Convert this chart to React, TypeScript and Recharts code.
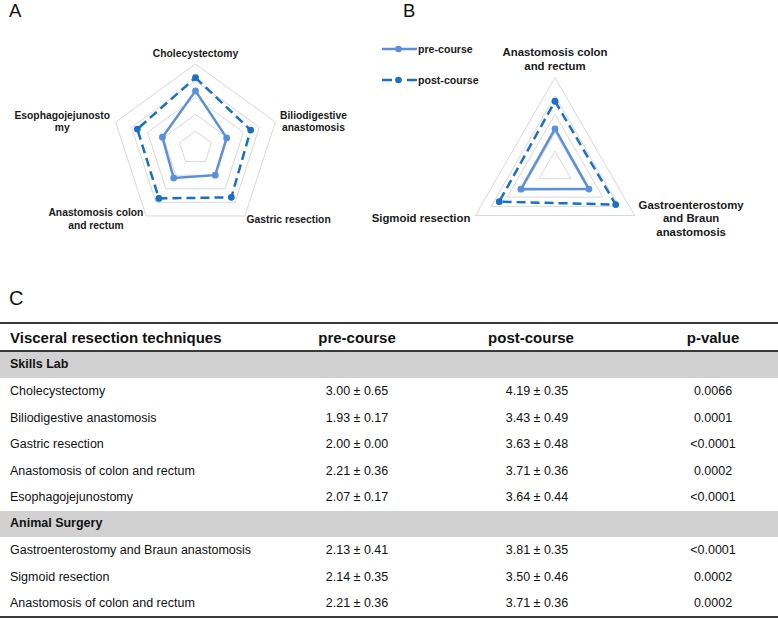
import { Legend, PolarAngleAxis, PolarGrid, PolarRadiusAxis, Radar, RadarChart } from "recharts"

// panel A – skills lab
const skillsLabels = [
  ["Cholecystectomy"],
  ["Biliodigestive", "anastomosis"],
  ["Gastric resection"],
  ["Anastomosis colon", "and rectum"],
  ["Esophagojejunosto", "my"],
]
const skillsPre = [3.4, 1.95, 2.0, 2.21, 2.07]
const skillsPost = [4.19, 3.45, 3.63, 3.71, 3.64]

// panel B – animal surgery
const animalLabels = [
  ["Anastomosis colon", "and rectum"],
  ["Gastroenterostomy", "and Braun", "anastomosis"],
  ["Sigmoid resection"],
]
const animalPre = [2.21, 2.13, 2.14]
const animalPost = [3.71, 3.81, 3.5]

const seriesNames = ["pre-course", "post-course"]

// panel C – table
const tableHeader = ["Visceral resection techniques", "pre-course", "post-course", "p-value"]
const skillsRows = [
  ["Cholecystectomy", "3.00 ± 0.65", "4.19 ± 0.35", "0.0066"],
  ["Biliodigestive anastomosis", "1.93 ± 0.17", "3.43 ± 0.49", "0.0001"],
  ["Gastric resection", "2.00 ± 0.00", "3.63 ± 0.48", "<0.0001"],
  ["Anastomosis of colon and rectum", "2.21 ± 0.36", "3.71 ± 0.36", "0.0002"],
  ["Esophagojejunostomy", "2.07 ± 0.17", "3.64 ± 0.44", "<0.0001"],
]
const animalRows = [
  ["Gastroenterostomy and Braun anastomosis", "2.13 ± 0.41", "3.81 ± 0.35", "<0.0001"],
  ["Sigmoid resection", "2.14 ± 0.35", "3.50 ± 0.46", "0.0002"],
  ["Anastomosis of colon and rectum", "2.21 ± 0.36", "3.71 ± 0.36", "0.0002"],
]

const PRE = "#5b8fd9"
const POST = "#1a6fc6"
const FONT = "'Liberation Sans', Arial, sans-serif"

const ctx = document.createElement("canvas").getContext("2d")
function textWidth(s: string, font: string) {
  if (!ctx) return s.length * 6
  ctx.font = font
  return ctx.measureText(s).width
}

function makeTick(labels: string[][], fontSize: number, dys: number[]) {
  return (props: any) => {
    const { x, y, textAnchor, index } = props
    const lines = labels[index] || []
    const font = `bold ${fontSize}px ${FONT}`
    const w = Math.max(...lines.map((l) => textWidth(l, font)))
    const lh = fontSize * 1.22
    let bx = x
    if (textAnchor === "start") bx = x - 3 + w / 2
    else if (textAnchor === "end") bx = x + 2 - w / 2
    const top = y + dys[index] - (lines.length * lh) / 2
    return (
      <text textAnchor="middle" fontFamily={FONT} fontWeight="bold" fontSize={fontSize} fill="#1a1a1a">
        {lines.map((l, i) => (
          <tspan key={i} x={bx} y={top + lh * (i + 0.5) + fontSize * 0.35}>
            {l}
          </tspan>
        ))}
      </text>
    )
  }
}

// polygon outline plus vertex dots, from the points recharts computed
function makeShape(color: string, dash?: string) {
  return (props: any) => {
    const pts: any[] = props.points || []
    if (!pts.length) return <g />
    const d = pts.map((p, i) => `${i ? "L" : "M"}${p.x},${p.y}`).join(" ") + " Z"
    return (
      <g>
        <path d={d} fill="none" stroke={color} strokeWidth={2.5} strokeDasharray={dash} strokeLinejoin="miter" />
        {pts.map((p, i) => (
          <circle key={i} cx={p.x} cy={p.y} r={3.4} fill={color} />
        ))}
      </g>
    )
  }
}

function LegendBox() {
  const colors = [PRE, POST]
  return (
    <svg width={110} height={52}>
      {seriesNames.map((name, i) => {
        const cy = 9 + i * 31
        const dashed = i === 1
        return (
          <g key={name}>
            {dashed ? (
              <>
                <line x1={2} x2={12} y1={cy} y2={cy} stroke={colors[i]} strokeWidth={2.5} />
                <line x1={27} x2={37} y1={cy} y2={cy} stroke={colors[i]} strokeWidth={2.5} />
              </>
            ) : (
              <line x1={2} x2={37} y1={cy} y2={cy} stroke={colors[i]} strokeWidth={2.5} />
            )}
            <circle cx={18.5} cy={cy} r={3.3} fill={colors[i]} />
            <text x={38} y={cy + 3.8} fontFamily={FONT} fontWeight="bold" fontSize={10.6} fill="#1a1a1a">
              {name}
            </text>
          </g>
        )
      })}
    </svg>
  )
}

function Spider({ labels, pre, post, width, height, cx, cy, radius, fontSize, dys, legend }: any) {
  const data = labels.map((l: string[], i: number) => ({ subject: l.join(" "), pre: pre[i], post: post[i] }))
  return (
    <RadarChart width={width} height={height} data={data} cx={cx} cy={cy} outerRadius={radius} margin={{ top: 0, right: 0, bottom: 0, left: 0 }}>
      <PolarGrid gridType="polygon" radialLines={false} stroke="#d9d9d9" strokeWidth={1} />
      <PolarRadiusAxis domain={[0, 5]} tickCount={6} tick={false} axisLine={false} />
      <PolarAngleAxis dataKey="subject" tickLine={false} axisLine={false} tick={makeTick(labels, fontSize, dys)} />
      <Radar
        name={seriesNames[0]}
        dataKey="pre"
        stroke={PRE}
        fill="none"
        shape={makeShape(PRE)}
        isAnimationActive={false}
      />
      <Radar
        name={seriesNames[1]}
        dataKey="post"
        stroke={POST}
        fill="none"
        shape={makeShape(POST, "9 5")}
        isAnimationActive={false}
      />
      {legend && (
        <Legend
          verticalAlign="top"
          align="left"
          content={<LegendBox />}
          wrapperStyle={{ left: 20, top: 40, width: 110, height: 52 }}
        />
      )}
    </RadarChart>
  )
}

const ROW_H = 26.5

function Row({ cells, top }: { cells: string[]; top: number }) {
  const centers = [0, 357, 537, 713]
  return (
    <div style={{ position: "absolute", top, left: 0, width: 778, height: ROW_H, fontSize: 12.5, color: "#111" }}>
      {cells.map((c, i) =>
        i === 0 ? (
          <div key={i} style={{ position: "absolute", left: 10, top: 0, lineHeight: `${ROW_H}px`, whiteSpace: "nowrap" }}>
            {c}
          </div>
        ) : (
          <div key={i} style={{ position: "absolute", left: centers[i] - 60, width: 120, textAlign: "center", top: 0, lineHeight: `${ROW_H}px`, whiteSpace: "nowrap" }}>
            {c}
          </div>
        )
      )}
    </div>
  )
}

function Band({ text, top }: { text: string; top: number }) {
  return (
    <div style={{ position: "absolute", top, left: 0, width: 778, height: ROW_H, background: "#d1d1d1" }}>
      <div style={{ position: "absolute", left: 10, top: -1, lineHeight: `${ROW_H}px`, fontSize: 12.5, fontWeight: "bold", color: "#111" }}>{text}</div>
    </div>
  )
}

export default function App() {
  const headerCenters = [0, 357, 531, 713]
  const skillsTop = 378
  const animalBand = skillsTop + skillsRows.length * ROW_H
  const animalTop = animalBand + ROW_H
  const bottom = animalTop + animalRows.length * ROW_H
  return (
    <div style={{ position: "relative", width: 778, height: 619, background: "#fff", overflow: "hidden", fontFamily: FONT }}>
      <style>{"body{margin:0}"}</style>
      <div style={{ position: "absolute", left: 9, top: 0, fontSize: 18.5, color: "#111" }}>A</div>
      <div style={{ position: "absolute", left: 403, top: 0, fontSize: 18.5, color: "#111" }}>B</div>
      <div style={{ position: "absolute", left: 9, top: 287, fontSize: 20, color: "#111" }}>C</div>

      <div style={{ position: "absolute", left: 0, top: 0 }}>
        <Spider
          labels={skillsLabels}
          pre={skillsPre}
          post={skillsPost}
          width={360}
          height={280}
          cx={195.5}
          cy={148}
          radius={84}
          fontSize={10.3}
          dys={[-3, 2, -3.4, -3.5, 2]}
        />
      </div>
      <div style={{ position: "absolute", left: 360, top: 0 }}>
        <Spider
          labels={animalLabels}
          pre={animalPre}
          post={animalPost}
          width={418}
          height={280}
          cx={195}
          cy={169.5}
          radius={92}
          fontSize={11.4}
          dys={[-10.3, -1, -1]}
          legend
        />
      </div>

      {/* table */}
      <div style={{ position: "absolute", left: 0, top: 321.5, width: 778, height: 2, background: "#3a3a3a" }} />
      <div style={{ position: "absolute", left: 0, top: 324, width: 778, height: 26, fontSize: 15, fontWeight: "bold", color: "#111" }}>
        {tableHeader.map((h, i) =>
          i === 0 ? (
            <div key={i} style={{ position: "absolute", left: 10, top: 0, lineHeight: "27px" }}>{h}</div>
          ) : (
            <div key={i} style={{ position: "absolute", left: headerCenters[i] - 70, width: 140, textAlign: "center", top: 0, lineHeight: "27px" }}>{h}</div>
          )
        )}
      </div>
      <div style={{ position: "absolute", left: 0, top: 350, width: 778, height: 1.5, background: "#3a3a3a" }} />
      <Band text="Skills Lab" top={351.5} />
      {skillsRows.map((r, i) => (
        <Row key={"s" + i} cells={r} top={skillsTop + i * ROW_H} />
      ))}
      <Band text="Animal Surgery" top={animalBand} />
      {animalRows.map((r, i) => (
        <Row key={"a" + i} cells={r} top={animalTop + i * ROW_H} />
      ))}
      <div style={{ position: "absolute", left: 0, top: bottom - 0.5, width: 778, height: 2, background: "#3a3a3a" }} />
    </div>
  )
}
